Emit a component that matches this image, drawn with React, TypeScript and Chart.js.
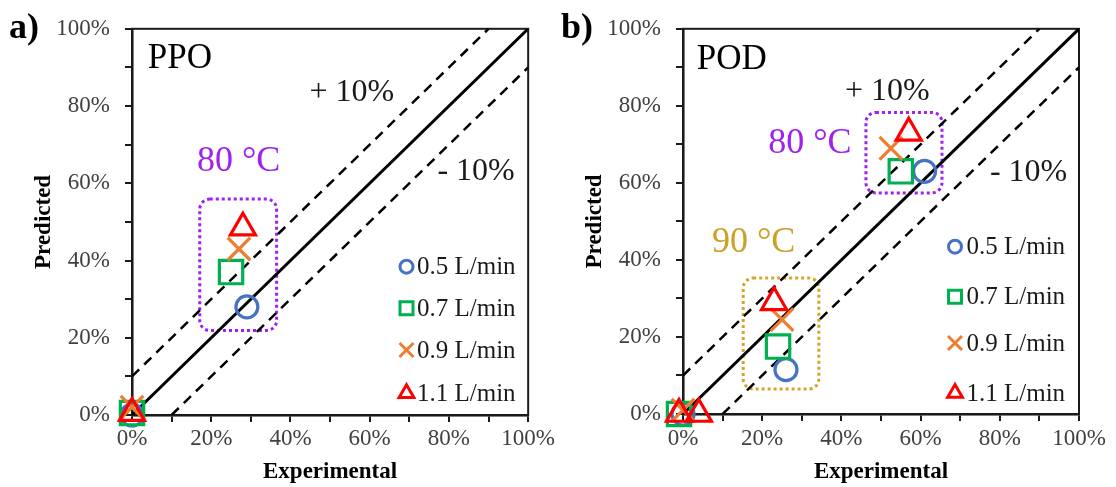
import React, { useEffect, useRef } from 'react';
import { Chart, registerables } from 'chart.js';

Chart.register(...registerables);

const SERIF = '"Liberation Serif", "Times New Roman", serif';

// ---------- data ----------
const flowLabels = ['0.5 L/min', '0.7 L/min', '0.9 L/min', '1.1 L/min'];
const seriesColors = ['#4472C4', '#00B050', '#ED7D31', '#FF0000'];
const seriesShapes = ['circle', 'rect', 'crossRot', 'triangle'];
const seriesRadius = [11, 16.5, 16, 14.5];

const tickLabelValues = [0, 20, 40, 60, 80, 100];

// PPO panel (experimental %, predicted %)
const ppoExp05 = [0, 29];
const ppoPred05 = [0, 28];
const ppoExp07 = [0, 25];
const ppoPred07 = [0.5, 37];
const ppoExp09 = [0, 27];
const ppoPred09 = [2, 43];
const ppoExp11 = [0, 28];
const ppoPred11 = [0.5, 48.5];

// POD panel
const podExp05 = [0, 26, 61];
const podPred05 = [0, 11.5, 63];
const podExp07 = [-1, 24, 55];
const podPred07 = [0, 17.5, 63];
const podExp09 = [0, 25, 52.5];
const podPred09 = [1, 24.5, 69];
const podExp11 = [-1, 4, 23, 57];
const podPred11 = [0, 0, 29, 73];

// parity and +/-10 % lines
const parityX = [0, 100];
const parityY = [0, 100];
const upperX = [0, 90];
const upperY = [10, 100];
const lowerX = [10, 100];
const lowerY = [0, 90];

const zip = (xs: number[], ys: number[]) => xs.map((x, i) => ({ x, y: ys[i] }));

// ---------- plugins ----------
function drawLegendMarker(ctx: CanvasRenderingContext2D, shape: string, x: number, y: number, color: string) {
  ctx.save();
  ctx.strokeStyle = color;
  ctx.lineWidth = 3;
  ctx.beginPath();
  if (shape === 'circle') {
    ctx.arc(x, y, 6.5, 0, Math.PI * 2);
  } else if (shape === 'rect') {
    ctx.rect(x - 6.5, y - 6.5, 13, 13);
  } else if (shape === 'crossRot') {
    ctx.moveTo(x - 7, y - 7);
    ctx.lineTo(x + 7, y + 7);
    ctx.moveTo(x + 7, y - 7);
    ctx.lineTo(x - 7, y + 7);
  } else {
    const r = 8.5;
    ctx.moveTo(x, y - r);
    ctx.lineTo(x + r * Math.sin(Math.PI / 3), y + r / 2);
    ctx.lineTo(x - r * Math.sin(Math.PI / 3), y + r / 2);
    ctx.closePath();
  }
  ctx.stroke();
  ctx.restore();
}

function roundRect(ctx: CanvasRenderingContext2D, x: number, y: number, w: number, h: number, r: number) {
  ctx.beginPath();
  ctx.moveTo(x + r, y);
  ctx.lineTo(x + w - r, y);
  ctx.arcTo(x + w, y, x + w, y + r, r);
  ctx.lineTo(x + w, y + h - r);
  ctx.arcTo(x + w, y + h, x + w - r, y + h, r);
  ctx.lineTo(x + r, y + h);
  ctx.arcTo(x, y + h, x, y + h - r, r);
  ctx.lineTo(x, y + r);
  ctx.arcTo(x, y, x + r, y, r);
  ctx.closePath();
}

const decorPlugin = {
  id: 'decor',
  beforeDatasetsDraw(chart: any, _args: any, opts: any) {
    const { ctx, chartArea: a, scales } = chart;
    // frame
    ctx.save();
    ctx.strokeStyle = '#1a1a1a';
    ctx.lineWidth = 2;
    ctx.strokeRect(a.left, a.top, a.right - a.left, a.bottom - a.top);
    ctx.restore();
    // dotted boxes
    (opts.boxes || []).forEach((b: any) => {
      const x1 = scales.x.getPixelForValue(b.x1);
      const x2 = scales.x.getPixelForValue(b.x2);
      const y1 = scales.y.getPixelForValue(b.y1);
      const y2 = scales.y.getPixelForValue(b.y2);
      ctx.save();
      ctx.strokeStyle = b.color;
      ctx.lineWidth = 3;
      ctx.setLineDash([3, 3]);
      roundRect(ctx, Math.min(x1, x2), Math.min(y1, y2), Math.abs(x2 - x1), Math.abs(y2 - y1), 10);
      ctx.stroke();
      ctx.restore();
    });
  },
  afterDatasetsDraw(chart: any, _args: any, opts: any) {
    const { ctx, scales } = chart;
    (opts.texts || []).forEach((t: any) => {
      ctx.save();
      ctx.fillStyle = t.color;
      ctx.font = `${t.weight || 'normal'} ${t.size}px ${SERIF}`;
      ctx.textAlign = 'left';
      ctx.textBaseline = 'middle';
      ctx.fillText(t.text, scales.x.getPixelForValue(t.x), scales.y.getPixelForValue(t.y));
      ctx.restore();
    });
    // panel label
    if (opts.panelLabel) {
      ctx.save();
      ctx.fillStyle = '#000';
      ctx.font = `bold 36px ${SERIF}`;
      ctx.textAlign = 'left';
      ctx.textBaseline = 'alphabetic';
      ctx.fillText(opts.panelLabel.text, opts.panelLabel.x, opts.panelLabel.y);
      ctx.restore();
    }
    // legend
    const lg = opts.legend;
    if (lg) {
      const ds = chart.data.datasets.filter((d: any) => d.inLegend);
      ds.forEach((d: any, i: number) => {
        const y = lg.rows[i];
        drawLegendMarker(ctx, d.pointStyle, lg.markerX, y, d.borderColor);
        ctx.save();
        ctx.fillStyle = '#1a1a1a';
        ctx.font = `25px ${SERIF}`;
        ctx.textAlign = 'left';
        ctx.textBaseline = 'middle';
        ctx.fillText(d.label, lg.textX, y + 1);
        ctx.restore();
      });
    }
  },
};

// ---------- panels ----------
type PanelCfg = {
  left: number;
  yAxisWidth: number;
  xAxisHeight: number;
  padTop: number;
  padRight: number;
  yTitlePad: number;
  xTickPad: number;
  series: { xs: number[]; ys: number[] }[];
  decor: any;
};

const panels: PanelCfg[] = [
  {
    left: 0,
    yAxisWidth: 132,
    xAxisHeight: 72,
    padTop: 18,
    padRight: 29,
    yTitlePad: 30,
    xTickPad: 3,
    series: [
      { xs: ppoExp05, ys: ppoPred05 },
      { xs: ppoExp07, ys: ppoPred07 },
      { xs: ppoExp09, ys: ppoPred09 },
      { xs: ppoExp11, ys: ppoPred11 },
    ],
    decor: {
      panelLabel: { text: 'a)', x: 9, y: 38 },
      boxes: [{ x1: 17.1, x2: 36.5, y1: 55.9, y2: 21.9, color: '#A020F0' }],
      texts: [
        { text: 'PPO', x: 4, y: 92.2, size: 35, color: '#000' },
        { text: '80 °C', x: 16.4, y: 65.5, size: 36, color: '#A020F0' },
        { text: '+ 10%', x: 44.8, y: 83.6, size: 32, color: '#1a1a1a' },
        { text: '- 10%', x: 77.1, y: 63, size: 32, color: '#1a1a1a' },
      ],
      legend: { markerX: 406.5, textX: 417, rows: [266.7, 308.3, 350, 393.3] },
    },
  },
  {
    left: 558,
    yAxisWidth: 125,
    xAxisHeight: 73,
    padTop: 17,
    padRight: 37,
    yTitlePad: 23,
    xTickPad: 4,
    series: [
      { xs: podExp05, ys: podPred05 },
      { xs: podExp07, ys: podPred07 },
      { xs: podExp09, ys: podPred09 },
      { xs: podExp11, ys: podPred11 },
    ],
    decor: {
      panelLabel: { text: 'b)', x: 3, y: 38 },
      boxes: [
        { x1: 46.2, x2: 65.4, y1: 78.3, y2: 57.4, color: '#A020F0' },
        { x1: 15.2, x2: 34.3, y1: 35.3, y2: 6.5, color: '#D4A52A' },
      ],
      texts: [
        { text: 'POD', x: 3.5, y: 92, size: 35, color: '#000' },
        { text: '80 °C', x: 21.5, y: 70.3, size: 36, color: '#A020F0' },
        { text: '90 °C', x: 7.3, y: 44.6, size: 36, color: '#C9A227' },
        { text: '+ 10%', x: 40.9, y: 83.6, size: 32, color: '#1a1a1a' },
        { text: '- 10%', x: 77.5, y: 62.7, size: 32, color: '#1a1a1a' },
      ],
      legend: { markerX: 397, textX: 408.5, rows: [246.7, 296.7, 343, 393] },
    },
  },
];

function buildConfig(p: PanelCfg): any {
  const pointSets = p.series.map((s, i) => ({
    type: 'scatter',
    label: flowLabels[i],
    inLegend: true,
    data: zip(s.xs, s.ys),
    pointStyle: seriesShapes[i],
    pointRadius: seriesRadius[i],
    pointHoverRadius: seriesRadius[i],
    pointBorderWidth: 3.2,
    borderColor: seriesColors[i],
    backgroundColor: 'rgba(0,0,0,0)',
    pointBackgroundColor: 'rgba(0,0,0,0)',
    showLine: false,
    clip: false,
    order: 4 - i,
  }));
  const lineSet = (xs: number[], ys: number[], dash: number[], w: number) => ({
    type: 'scatter',
    label: '',
    data: zip(xs, ys),
    showLine: true,
    borderColor: '#000',
    borderWidth: w,
    borderDash: dash,
    pointRadius: 0,
    pointHoverRadius: 0,
    fill: false,
    order: 10,
  });
  const tickFont = { family: SERIF, size: 23 };
  const titleFont = { family: SERIF, size: 23, weight: 'bold' };
  const fmt = (v: any) => (tickLabelValues.includes(Number(v)) ? `${v}%` : '');
  return {
    type: 'scatter',
    data: {
      datasets: [
        ...pointSets,
        lineSet(parityX, parityY, [], 3),
        lineSet(upperX, upperY, [10, 7], 2.5),
        lineSet(lowerX, lowerY, [10, 7], 2.5),
      ],
    },
    options: {
      responsive: false,
      animation: false,
      events: [],
      layout: { padding: { top: p.padTop, right: p.padRight, left: 0, bottom: 0 } },
      plugins: {
        legend: { display: false },
        tooltip: { enabled: false },
        decor: p.decor,
      },
      scales: {
        x: {
          type: 'linear',
          min: 0,
          max: 100,
          afterFit: (s: any) => {
            s.height = p.xAxisHeight;
          },
          ticks: {
            stepSize: 10,
            autoSkip: false,
            maxRotation: 0,
            padding: p.xTickPad,
            color: '#404040',
            font: tickFont,
            callback: fmt,
          },
          grid: { drawOnChartArea: false, drawTicks: true, tickLength: 7, color: '#1a1a1a', lineWidth: 2 },
          border: { display: true, color: '#000', width: 2.5 },
          title: {
            display: true,
            text: 'Experimental',
            color: '#000',
            font: titleFont,
            padding: { top: 0, bottom: 1 },
          },
        },
        y: {
          type: 'linear',
          min: 0,
          max: 100,
          afterFit: (s: any) => {
            s.width = p.yAxisWidth;
          },
          ticks: {
            stepSize: 10,
            autoSkip: false,
            padding: 15,
            color: '#404040',
            font: tickFont,
            callback: fmt,
          },
          grid: { drawOnChartArea: false, drawTicks: true, tickLength: 7, color: '#1a1a1a', lineWidth: 2 },
          border: { display: true, color: '#000', width: 2.5 },
          title: {
            display: true,
            text: 'Predicted',
            color: '#000',
            font: titleFont,
            padding: { top: p.yTitlePad, bottom: 0 },
          },
        },
      },
    },
    plugins: [decorPlugin],
  };
}

function Panel({ cfg }: { cfg: PanelCfg }) {
  const ref = useRef<HTMLCanvasElement>(null);
  useEffect(() => {
    if (!ref.current) return;
    const chart = new Chart(ref.current, buildConfig(cfg));
    return () => chart.destroy();
  }, [cfg]);
  return (
    <canvas
      ref={ref}
      width={558}
      height={487}
      style={{ position: 'absolute', left: cfg.left, top: 0, width: 558, height: 487 }}
    />
  );
}

export default function App() {
  return (
    <div style={{ position: 'absolute', left: 0, top: 0, width: 1116, height: 487, background: '#fff' }}>
      {panels.map((p, i) => (
        <Panel key={i} cfg={p} />
      ))}
    </div>
  );
}
